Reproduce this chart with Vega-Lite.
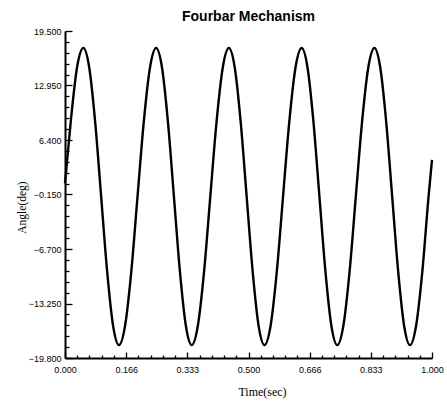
{
  "$schema": "https://vega.github.io/schema/vega-lite/v6.json",
  "width": 367,
  "height": 327,
  "autosize": {"type": "none"},
  "padding": {"left": 65, "top": 31, "right": 15, "bottom": 45},
  "background": "white",
  "title": {"text": "Fourbar Mechanism", "font": "Liberation Sans", "fontSize": 14, "fontWeight": "bold", "color": "black", "offset": 3, "anchor": "middle"},
  "config": {
    "view": {"stroke": null},
    "axis": {"grid": false, "domainColor": "black", "domainWidth": 2, "tickColor": "black", "tickWidth": 1.3, "labelColor": "black", "titleColor": "black", "labelFont": "Liberation Sans", "labelFontSize": 9, "titleFont": "Liberation Serif", "titleFontWeight": "normal"}
  },
  "data": {"values": [
    {"time": 0.0, "angle": 1.2},
    {"time": 0.0163, "angle": 8.9},
    {"time": 0.0331, "angle": 15.2},
    {"time": 0.050, "angle": 17.45},
    {"time": 0.0662, "angle": 15.06},
    {"time": 0.0823, "angle": 8.53},
    {"time": 0.0985, "angle": -0.4},
    {"time": 0.1147, "angle": -9.33},
    {"time": 0.1308, "angle": -15.86},
    {"time": 0.147, "angle": -18.25},
    {"time": 0.1639, "angle": -15.86},
    {"time": 0.1808, "angle": -9.33},
    {"time": 0.1976, "angle": -0.4},
    {"time": 0.2145, "angle": 8.53},
    {"time": 0.2314, "angle": 15.06},
    {"time": 0.2483, "angle": 17.45},
    {"time": 0.2645, "angle": 15.06},
    {"time": 0.2806, "angle": 8.53},
    {"time": 0.2968, "angle": -0.4},
    {"time": 0.3130, "angle": -9.33},
    {"time": 0.3291, "angle": -15.86},
    {"time": 0.3453, "angle": -18.25},
    {"time": 0.3622, "angle": -15.86},
    {"time": 0.3791, "angle": -9.33},
    {"time": 0.3959, "angle": -0.4},
    {"time": 0.4128, "angle": 8.53},
    {"time": 0.4297, "angle": 15.06},
    {"time": 0.4465, "angle": 17.45},
    {"time": 0.4627, "angle": 15.06},
    {"time": 0.4788, "angle": 8.53},
    {"time": 0.4950, "angle": -0.4},
    {"time": 0.5112, "angle": -9.33},
    {"time": 0.5273, "angle": -15.86},
    {"time": 0.5435, "angle": -18.25},
    {"time": 0.5604, "angle": -15.86},
    {"time": 0.5773, "angle": -9.33},
    {"time": 0.5941, "angle": -0.4},
    {"time": 0.6110, "angle": 8.53},
    {"time": 0.6279, "angle": 15.06},
    {"time": 0.6448, "angle": 17.45},
    {"time": 0.6610, "angle": 15.06},
    {"time": 0.6771, "angle": 8.53},
    {"time": 0.6933, "angle": -0.4},
    {"time": 0.7095, "angle": -9.33},
    {"time": 0.7256, "angle": -15.86},
    {"time": 0.7418, "angle": -18.25},
    {"time": 0.7587, "angle": -15.86},
    {"time": 0.7756, "angle": -9.33},
    {"time": 0.7924, "angle": -0.4},
    {"time": 0.8093, "angle": 8.53},
    {"time": 0.8262, "angle": 15.06},
    {"time": 0.8430, "angle": 17.45},
    {"time": 0.8592, "angle": 15.06},
    {"time": 0.8753, "angle": 8.53},
    {"time": 0.8915, "angle": -0.4},
    {"time": 0.9077, "angle": -9.33},
    {"time": 0.9238, "angle": -15.86},
    {"time": 0.9400, "angle": -18.25},
    {"time": 0.9569, "angle": -15.86},
    {"time": 0.9738, "angle": -9.33},
    {"time": 0.9906, "angle": -0.4},
    {"time": 1.0, "angle": 4.0}
  ]},
  "mark": {"type": "line", "color": "black", "strokeWidth": 2.4, "interpolate": "monotone"},
  "encoding": {
    "x": {
      "field": "time", "type": "quantitative",
      "scale": {"domain": [0, 1], "nice": false, "zero": false},
      "axis": {
        "title": "Time(sec)", "titleFontSize": 12, "titleX": 197, "titleY": 28, "titleBaseline": "top",
        "values": [0, 0.03333, 0.06667, 0.1, 0.13333, 0.16667, 0.2, 0.23333, 0.26667, 0.3, 0.33333, 0.36667, 0.4, 0.43333, 0.46667, 0.5, 0.53333, 0.56667, 0.6, 0.63333, 0.66667, 0.7, 0.73333, 0.76667, 0.8, 0.83333, 0.86667, 0.9, 0.93333, 0.96667, 1],
        "labelExpr": "round(datum.value*30) % 5 == 0 ? format(floor(datum.value*1000 + 0.001)/1000, '.3f') : ''",
        "tickSize": {"condition": {"test": "round(datum.value*30) % 5 == 0", "value": -6}, "value": -3},
        "labelPadding": 13,
        "labelDx": 3,
        "labelFlush": false,
        "labelOverlap": false
      }
    },
    "y": {
      "field": "angle", "type": "quantitative",
      "scale": {"domain": [-19.8, 19.5], "nice": false, "zero": false},
      "axis": {
        "title": "Angle(deg)", "titleFontSize": 11.5, "titleX": -43, "titleY": 176, "titleAlign": "center", "titleBaseline": "middle", "titleAngle": -90,
        "values": [-19.8, -18.49, -17.18, -15.87, -14.56, -13.25, -11.94, -10.63, -9.32, -8.01, -6.7, -5.39, -4.08, -2.77, -1.46, -0.15, 1.16, 2.47, 3.78, 5.09, 6.4, 7.71, 9.02, 10.33, 11.64, 12.95, 14.26, 15.57, 16.88, 18.19, 19.5],
        "labelExpr": "abs((datum.value + 19.8)/6.55 - round((datum.value + 19.8)/6.55)) < 0.01 ? format(datum.value, '.3f') : ''",
        "tickSize": {"condition": {"test": "abs((datum.value + 19.8)/6.55 - round((datum.value + 19.8)/6.55)) < 0.01", "value": -7}, "value": -4},
        "labelPadding": 11,
        "labelFlush": false,
        "labelOverlap": false
      }
    }
  }
}
